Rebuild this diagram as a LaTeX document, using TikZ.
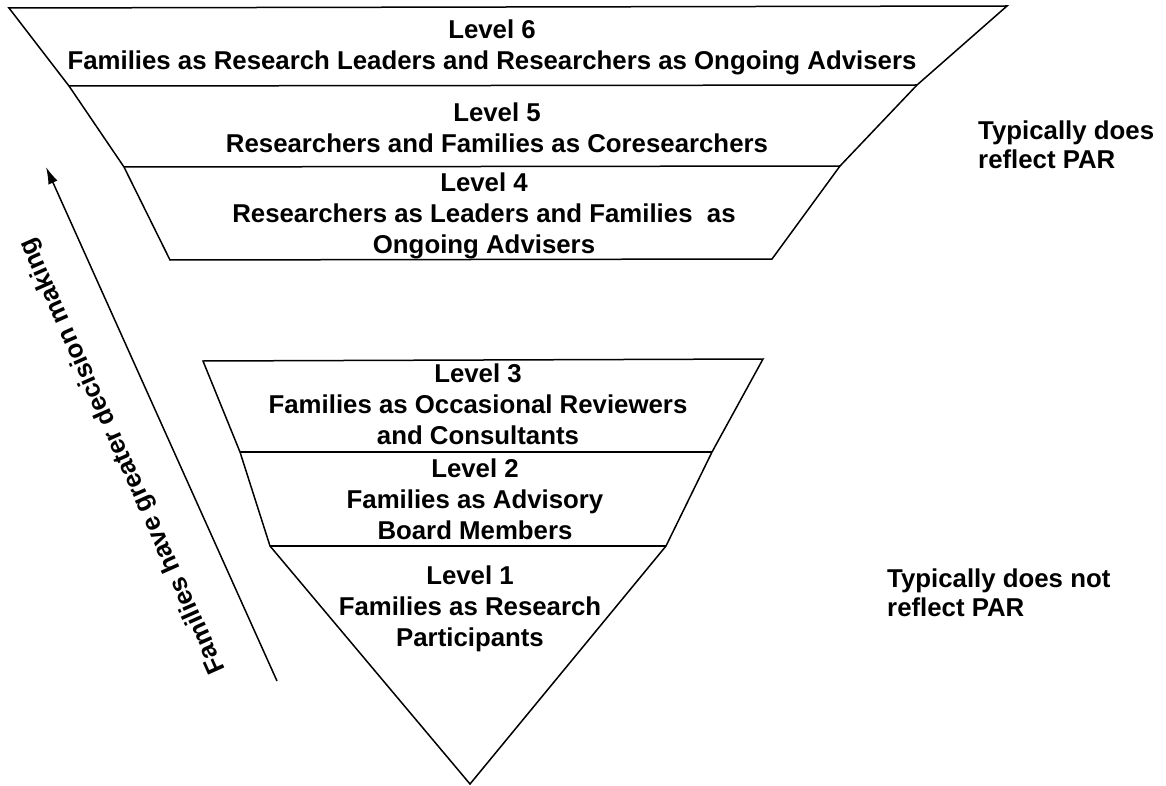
\documentclass[tikz,border=0pt]{standalone}
\usepackage{fontspec}
\setmainfont{Liberation Sans}
\usetikzlibrary{arrows.meta}
\begin{document}
\begin{tikzpicture}[x=1pt,y=-1pt,
  lvl/.style={font=\bfseries\fontsize{25.8}{31}\selectfont, align=center, inner sep=0pt},
  side/.style={font=\bfseries\fontsize{25.8}{29}\selectfont, align=left, inner sep=0pt, anchor=west},
  edge/.style={draw=black, line width=1.5pt, line join=miter},
  arr/.style={draw=black, line width=1.5pt, -{Latex[length=17pt,width=10pt]}}]
\useasboundingbox (0,0) rectangle (1166,786);
% upper trapezoid stack
\coordinate (t0l) at (9,8);    \coordinate (t0r) at (1007,6);
\coordinate (t1l) at (69,86);  \coordinate (t1r) at (917,85);
\coordinate (t2l) at (124,167);\coordinate (t2r) at (840,166);
\coordinate (t3l) at (170,260);\coordinate (t3r) at (772,259);
\draw[edge] (t0l) -- (t0r) -- (t1r) -- (t2r) -- (t3r) -- (t3l) -- (t2l) -- (t1l) -- cycle;
\draw[edge] (t1l) -- (t1r);
\draw[edge] (t2l) -- (t2r);
% lower stack
\coordinate (b0l) at (203,361); \coordinate (b0r) at (763,359);
\coordinate (b1l) at (240,452); \coordinate (b1r) at (712,452);
\coordinate (b2l) at (270,546); \coordinate (b2r) at (666,546);
\coordinate (apex) at (470,784);
\draw[edge] (b0l) -- (b0r) -- (b1r) -- (b2r) -- (apex) -- (b2l) -- (b1l) -- cycle;
\draw[edge] (b1l) -- (b1r);
\draw[edge] (b2l) -- (b2r);
% level texts
\node[lvl] (l6) at (492,47) {Level 6\\Families as Research Leaders and Researchers as Ongoing Advisers};
\node[lvl] (l5) at (497,128) {Level 5\\Researchers and Families as Coresearchers};
\node[lvl] (l4) at (484,216) {Level 4\\Researchers as Leaders and Families\ \ as\\Ongoing Advisers};
\node[lvl] (l3) at (478,404) {Level 3\\Families as Occasional Reviewers\\and Consultants};
\node[lvl] (l2) at (475,499) {Level 2\\Families as Advisory\\Board Members};
\node[lvl] (l1) at (470,609) {Level 1\\Families as Research\\Participants};
% side texts
\node[side] (s1) at (978,145) {Typically does\\reflect PAR};
\node[side] (s2) at (887,593) {Typically does not\\reflect PAR};
% arrow
\coordinate (atail) at (277,681);
\coordinate (ahead) at (46,167);
\draw[arr] (atail) -- (ahead);
\node[lvl, rotate=114] (alab) at (123,456) {Families have greater decision making};
\end{tikzpicture}
\end{document}
